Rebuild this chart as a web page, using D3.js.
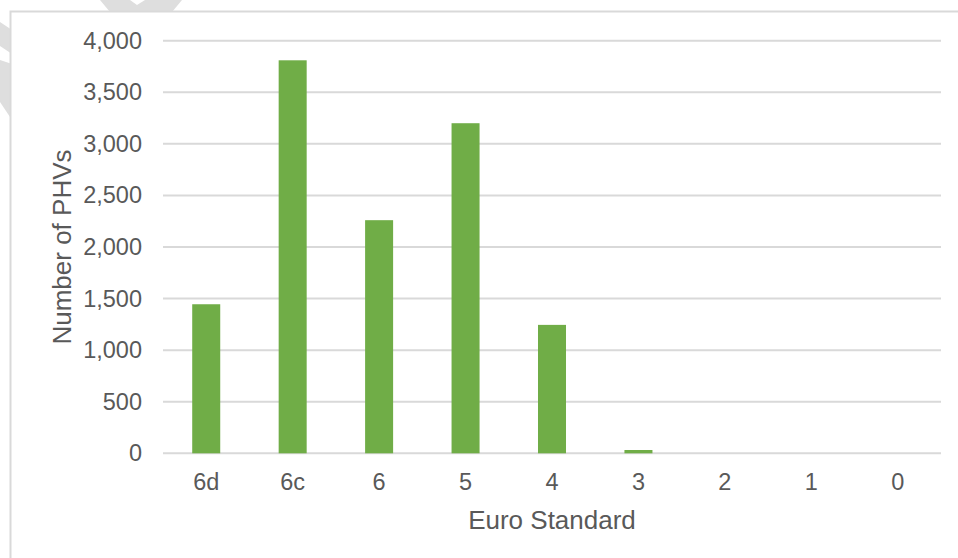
<!DOCTYPE html>
<html>
<head>
<meta charset="utf-8">
<script src="https://cdn.jsdelivr.net/npm/d3@7"></script>
<style>
  html, body { margin: 0; padding: 0; background: #ffffff; }
  svg { display: block; font-family: "Liberation Sans", Arial, sans-serif; }
</style>
</head>
<body>
<svg id="chart" width="958" height="558"></svg>
<script>
// Vehicle counts by Euro emission standard
const categories = ["6d", "6c", "6", "5", "4", "3", "2", "1", "0"];
const vehicles   = [1445, 3810, 2260, 3200, 1245, 32, 0, 0, 0];
const yTicks     = [0, 500, 1000, 1500, 2000, 2500, 3000, 3500, 4000];

const svg = d3.select("#chart");
const W = 958, H = 558;

// Faint background mark peeking out around the chart frame
const wm = svg.append("g").attr("fill", "#dedede");
wm.append("path").attr("d", "M0,22 L12,30 L12,54 L0,46 Z");
wm.append("path").attr("d", "M0,60 L12,64 L12,120 L0,102 Z");
wm.append("path").attr("d", "M100,0 L130,0 L137,5 L145,0 L182,0 L172,12 L110,12 Z");

// Chart frame
svg.append("rect")
  .attr("x", 10.5).attr("y", 11.5)
  .attr("width", W + 20).attr("height", H + 20)
  .attr("fill", "#ffffff")
  .attr("stroke", "#d9d9d9")
  .attr("stroke-width", 2);

const plot = { left: 163, right: 941, top: 40.7, bottom: 453.3 };

const x = d3.scaleBand()
  .domain(categories)
  .range([plot.left, plot.right])
  .paddingInner(0.676)
  .paddingOuter(0.338);

const y = d3.scaleLinear()
  .domain([0, 4000])
  .range([plot.bottom, plot.top]);

// Horizontal gridlines
svg.append("g")
  .selectAll("line")
  .data(yTicks)
  .join("line")
  .attr("x1", plot.left).attr("x2", plot.right)
  .attr("y1", d => y(d)).attr("y2", d => y(d))
  .attr("stroke", "#d9d9d9")
  .attr("stroke-width", 2);

// Y axis tick labels
const yAxis = d3.axisLeft(y)
  .tickValues(yTicks)
  .tickFormat(d3.format(","))
  .tickSize(0)
  .tickPadding(0);
svg.append("g")
  .attr("transform", `translate(${142},0)`)
  .call(yAxis)
  .call(g => g.select(".domain").remove())
  .call(g => g.selectAll("text")
    .attr("fill", "#595959")
    .attr("font-size", 23.5)
    .attr("font-family", "'Liberation Sans', Arial, sans-serif"));

// Bars
svg.append("g")
  .selectAll("rect")
  .data(categories.map((c, i) => ({ c, v: vehicles[i] })))
  .join("rect")
  .attr("x", d => x(d.c))
  .attr("width", x.bandwidth())
  .attr("y", d => y(d.v))
  .attr("height", d => y(0) - y(d.v))
  .attr("fill", "#70ad47");

// X axis tick labels
const xAxis = d3.axisBottom(x).tickSize(0).tickPadding(0);
svg.append("g")
  .attr("transform", `translate(0,${473})`)
  .call(xAxis)
  .call(g => g.select(".domain").remove())
  .call(g => g.selectAll("text")
    .attr("dy", "0.72em")
    .attr("fill", "#595959")
    .attr("font-size", 23.5)
    .attr("font-family", "'Liberation Sans', Arial, sans-serif"));

// Axis titles
svg.append("text")
  .attr("x", (plot.left + plot.right) / 2)
  .attr("y", 529)
  .attr("text-anchor", "middle")
  .attr("fill", "#595959")
  .attr("font-size", 26)
  .text("Euro Standard");

svg.append("text")
  .attr("transform", `translate(71,${247}) rotate(-90)`)
  .attr("text-anchor", "middle")
  .attr("fill", "#595959")
  .attr("font-size", 26)
  .text("Number of PHVs");
</script>
</body>
</html>
